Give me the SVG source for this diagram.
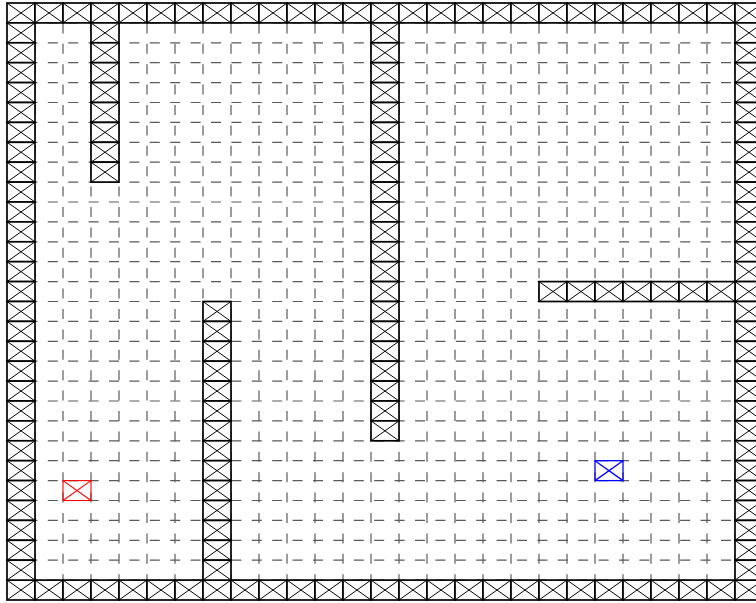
<svg xmlns="http://www.w3.org/2000/svg" xmlns:xlink="http://www.w3.org/1999/xlink" width="756" height="603" viewBox="0 0 756 603">
<style>
.grid line{stroke:#5a5a5a;stroke-width:1.2;stroke-dasharray:10 10.4;fill:none}
.w{fill:#fff;stroke:#000;stroke-width:1.7}
.wx{stroke:#000;stroke-width:1}
.start rect,.start line{stroke:#ff0000;stroke-width:1.1;fill:none}
.goal rect,.goal line{stroke:#0000ff;stroke-width:1.3;fill:none}
</style>
<defs>
<g id="wall">
<rect class="w" x="0" y="0" width="28" height="19.9"/>
<line class="wx" x1="0" y1="0" x2="28" y2="19.9"/>
<line class="wx" x1="28" y1="0" x2="0" y2="19.9"/>
</g>
</defs>
<rect x="0" y="0" width="756" height="603" fill="#fff"/>
<g id="grid" class="grid">
<line x1="7" y1="22.9" x2="763" y2="22.9"/>
<line x1="7" y1="42.8" x2="763" y2="42.8"/>
<line x1="7" y1="62.7" x2="763" y2="62.7"/>
<line x1="7" y1="82.6" x2="763" y2="82.6"/>
<line x1="7" y1="102.5" x2="763" y2="102.5"/>
<line x1="7" y1="122.4" x2="763" y2="122.4"/>
<line x1="7" y1="142.3" x2="763" y2="142.3"/>
<line x1="7" y1="162.2" x2="763" y2="162.2"/>
<line x1="7" y1="182.1" x2="763" y2="182.1"/>
<line x1="7" y1="202" x2="763" y2="202"/>
<line x1="7" y1="221.9" x2="763" y2="221.9"/>
<line x1="7" y1="241.8" x2="763" y2="241.8"/>
<line x1="7" y1="261.7" x2="763" y2="261.7"/>
<line x1="7" y1="281.6" x2="763" y2="281.6"/>
<line x1="7" y1="301.5" x2="763" y2="301.5"/>
<line x1="7" y1="321.4" x2="763" y2="321.4"/>
<line x1="7" y1="341.3" x2="763" y2="341.3"/>
<line x1="7" y1="361.2" x2="763" y2="361.2"/>
<line x1="7" y1="381.1" x2="763" y2="381.1"/>
<line x1="7" y1="401" x2="763" y2="401"/>
<line x1="7" y1="420.9" x2="763" y2="420.9"/>
<line x1="7" y1="440.8" x2="763" y2="440.8"/>
<line x1="7" y1="460.7" x2="763" y2="460.7"/>
<line x1="7" y1="480.6" x2="763" y2="480.6"/>
<line x1="7" y1="500.5" x2="763" y2="500.5"/>
<line x1="7" y1="520.4" x2="763" y2="520.4"/>
<line x1="7" y1="540.3" x2="763" y2="540.3"/>
<line x1="7" y1="560.2" x2="763" y2="560.2"/>
<line x1="7" y1="580.1" x2="763" y2="580.1"/>
<line x1="35" y1="3" x2="35" y2="600"/>
<line x1="63" y1="3" x2="63" y2="600"/>
<line x1="91" y1="3" x2="91" y2="600"/>
<line x1="119" y1="3" x2="119" y2="600"/>
<line x1="147" y1="3" x2="147" y2="600"/>
<line x1="175" y1="3" x2="175" y2="600"/>
<line x1="203" y1="3" x2="203" y2="600"/>
<line x1="231" y1="3" x2="231" y2="600"/>
<line x1="259" y1="3" x2="259" y2="600"/>
<line x1="287" y1="3" x2="287" y2="600"/>
<line x1="315" y1="3" x2="315" y2="600"/>
<line x1="343" y1="3" x2="343" y2="600"/>
<line x1="371" y1="3" x2="371" y2="600"/>
<line x1="399" y1="3" x2="399" y2="600"/>
<line x1="427" y1="3" x2="427" y2="600"/>
<line x1="455" y1="3" x2="455" y2="600"/>
<line x1="483" y1="3" x2="483" y2="600"/>
<line x1="511" y1="3" x2="511" y2="600"/>
<line x1="539" y1="3" x2="539" y2="600"/>
<line x1="567" y1="3" x2="567" y2="600"/>
<line x1="595" y1="3" x2="595" y2="600"/>
<line x1="623" y1="3" x2="623" y2="600"/>
<line x1="651" y1="3" x2="651" y2="600"/>
<line x1="679" y1="3" x2="679" y2="600"/>
<line x1="707" y1="3" x2="707" y2="600"/>
<line x1="735" y1="3" x2="735" y2="600"/>
</g>
<g id="walls">
<use href="#wall" x="7" y="3"/><use href="#wall" x="35" y="3"/><use href="#wall" x="63" y="3"/><use href="#wall" x="91" y="3"/><use href="#wall" x="119" y="3"/><use href="#wall" x="147" y="3"/><use href="#wall" x="175" y="3"/><use href="#wall" x="203" y="3"/><use href="#wall" x="231" y="3"/><use href="#wall" x="259" y="3"/><use href="#wall" x="287" y="3"/><use href="#wall" x="315" y="3"/><use href="#wall" x="343" y="3"/><use href="#wall" x="371" y="3"/><use href="#wall" x="399" y="3"/><use href="#wall" x="427" y="3"/><use href="#wall" x="455" y="3"/><use href="#wall" x="483" y="3"/><use href="#wall" x="511" y="3"/><use href="#wall" x="539" y="3"/><use href="#wall" x="567" y="3"/><use href="#wall" x="595" y="3"/><use href="#wall" x="623" y="3"/><use href="#wall" x="651" y="3"/><use href="#wall" x="679" y="3"/><use href="#wall" x="707" y="3"/><use href="#wall" x="735" y="3"/>
<use href="#wall" x="7" y="580.1"/><use href="#wall" x="35" y="580.1"/><use href="#wall" x="63" y="580.1"/><use href="#wall" x="91" y="580.1"/><use href="#wall" x="119" y="580.1"/><use href="#wall" x="147" y="580.1"/><use href="#wall" x="175" y="580.1"/><use href="#wall" x="203" y="580.1"/><use href="#wall" x="231" y="580.1"/><use href="#wall" x="259" y="580.1"/><use href="#wall" x="287" y="580.1"/><use href="#wall" x="315" y="580.1"/><use href="#wall" x="343" y="580.1"/><use href="#wall" x="371" y="580.1"/><use href="#wall" x="399" y="580.1"/><use href="#wall" x="427" y="580.1"/><use href="#wall" x="455" y="580.1"/><use href="#wall" x="483" y="580.1"/><use href="#wall" x="511" y="580.1"/><use href="#wall" x="539" y="580.1"/><use href="#wall" x="567" y="580.1"/><use href="#wall" x="595" y="580.1"/><use href="#wall" x="623" y="580.1"/><use href="#wall" x="651" y="580.1"/><use href="#wall" x="679" y="580.1"/><use href="#wall" x="707" y="580.1"/><use href="#wall" x="735" y="580.1"/>
<use href="#wall" x="7" y="22.9"/><use href="#wall" x="7" y="42.8"/><use href="#wall" x="7" y="62.7"/><use href="#wall" x="7" y="82.6"/><use href="#wall" x="7" y="102.5"/><use href="#wall" x="7" y="122.4"/><use href="#wall" x="7" y="142.3"/><use href="#wall" x="7" y="162.2"/><use href="#wall" x="7" y="182.1"/><use href="#wall" x="7" y="202"/><use href="#wall" x="7" y="221.9"/><use href="#wall" x="7" y="241.8"/><use href="#wall" x="7" y="261.7"/><use href="#wall" x="7" y="281.6"/><use href="#wall" x="7" y="301.5"/><use href="#wall" x="7" y="321.4"/><use href="#wall" x="7" y="341.3"/><use href="#wall" x="7" y="361.2"/><use href="#wall" x="7" y="381.1"/><use href="#wall" x="7" y="401"/><use href="#wall" x="7" y="420.9"/><use href="#wall" x="7" y="440.8"/><use href="#wall" x="7" y="460.7"/><use href="#wall" x="7" y="480.6"/><use href="#wall" x="7" y="500.5"/><use href="#wall" x="7" y="520.4"/><use href="#wall" x="7" y="540.3"/><use href="#wall" x="7" y="560.2"/>
<use href="#wall" x="735" y="22.9"/><use href="#wall" x="735" y="42.8"/><use href="#wall" x="735" y="62.7"/><use href="#wall" x="735" y="82.6"/><use href="#wall" x="735" y="102.5"/><use href="#wall" x="735" y="122.4"/><use href="#wall" x="735" y="142.3"/><use href="#wall" x="735" y="162.2"/><use href="#wall" x="735" y="182.1"/><use href="#wall" x="735" y="202"/><use href="#wall" x="735" y="221.9"/><use href="#wall" x="735" y="241.8"/><use href="#wall" x="735" y="261.7"/><use href="#wall" x="735" y="281.6"/><use href="#wall" x="735" y="301.5"/><use href="#wall" x="735" y="321.4"/><use href="#wall" x="735" y="341.3"/><use href="#wall" x="735" y="361.2"/><use href="#wall" x="735" y="381.1"/><use href="#wall" x="735" y="401"/><use href="#wall" x="735" y="420.9"/><use href="#wall" x="735" y="440.8"/><use href="#wall" x="735" y="460.7"/><use href="#wall" x="735" y="480.6"/><use href="#wall" x="735" y="500.5"/><use href="#wall" x="735" y="520.4"/><use href="#wall" x="735" y="540.3"/><use href="#wall" x="735" y="560.2"/>
<use href="#wall" x="91" y="22.9"/><use href="#wall" x="91" y="42.8"/><use href="#wall" x="91" y="62.7"/><use href="#wall" x="91" y="82.6"/><use href="#wall" x="91" y="102.5"/><use href="#wall" x="91" y="122.4"/><use href="#wall" x="91" y="142.3"/><use href="#wall" x="91" y="162.2"/>
<use href="#wall" x="371" y="22.9"/><use href="#wall" x="371" y="42.8"/><use href="#wall" x="371" y="62.7"/><use href="#wall" x="371" y="82.6"/><use href="#wall" x="371" y="102.5"/><use href="#wall" x="371" y="122.4"/><use href="#wall" x="371" y="142.3"/><use href="#wall" x="371" y="162.2"/><use href="#wall" x="371" y="182.1"/><use href="#wall" x="371" y="202"/><use href="#wall" x="371" y="221.9"/><use href="#wall" x="371" y="241.8"/><use href="#wall" x="371" y="261.7"/><use href="#wall" x="371" y="281.6"/><use href="#wall" x="371" y="301.5"/><use href="#wall" x="371" y="321.4"/><use href="#wall" x="371" y="341.3"/><use href="#wall" x="371" y="361.2"/><use href="#wall" x="371" y="381.1"/><use href="#wall" x="371" y="401"/><use href="#wall" x="371" y="420.9"/>
<use href="#wall" x="203" y="301.5"/><use href="#wall" x="203" y="321.4"/><use href="#wall" x="203" y="341.3"/><use href="#wall" x="203" y="361.2"/><use href="#wall" x="203" y="381.1"/><use href="#wall" x="203" y="401"/><use href="#wall" x="203" y="420.9"/><use href="#wall" x="203" y="440.8"/><use href="#wall" x="203" y="460.7"/><use href="#wall" x="203" y="480.6"/><use href="#wall" x="203" y="500.5"/><use href="#wall" x="203" y="520.4"/><use href="#wall" x="203" y="540.3"/><use href="#wall" x="203" y="560.2"/>
<use href="#wall" x="539" y="281.6"/><use href="#wall" x="567" y="281.6"/><use href="#wall" x="595" y="281.6"/><use href="#wall" x="623" y="281.6"/><use href="#wall" x="651" y="281.6"/><use href="#wall" x="679" y="281.6"/><use href="#wall" x="707" y="281.6"/>
</g>
<g id="start" class="start">
<rect x="63" y="480.6" width="28" height="19.9"/>
<line x1="63" y1="480.6" x2="91" y2="500.5"/>
<line x1="91" y1="480.6" x2="63" y2="500.5"/>
</g>
<g id="goal" class="goal">
<rect x="595" y="460.7" width="28" height="19.9"/>
<line x1="595" y1="460.7" x2="623" y2="480.6"/>
<line x1="623" y1="460.7" x2="595" y2="480.6"/>
</g>
</svg>
